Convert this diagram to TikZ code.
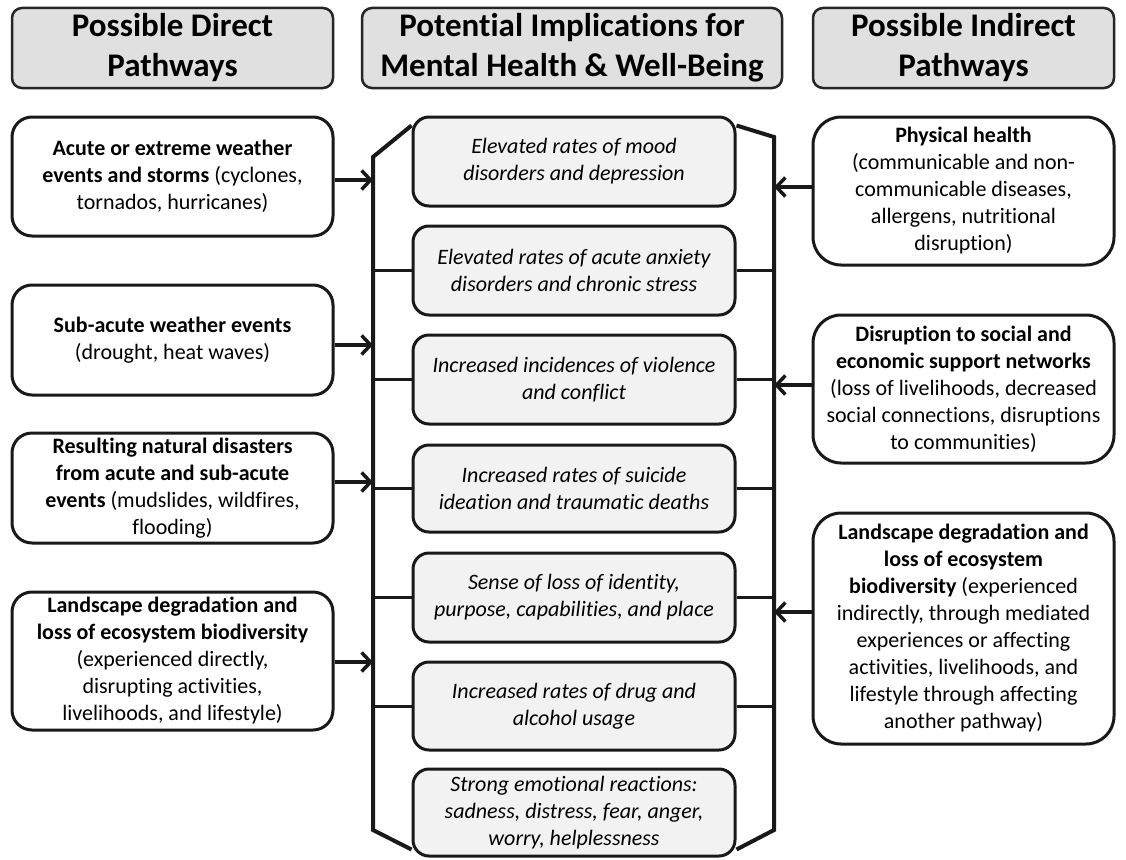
\documentclass[tikz,border=0pt]{standalone}
\usepackage{fontspec}
\setmainfont{Carlito}[Ligatures=NoCommon]
\usetikzlibrary{arrows.meta}
\begin{document}
\begin{tikzpicture}[x=1pt,y=-1pt,
  hdr/.style={draw=black!85, line width=2.5pt, rounded corners=10pt, fill=black!12,
    font=\fontsize{33}{40}\selectfont\bfseries, align=center, inner sep=0pt, minimum height=80pt},
  lbox/.style={draw=black!90, line width=3pt, rounded corners=20pt, fill=white,
    font=\fontsize{22}{27}\selectfont, align=center, inner sep=0pt, minimum width=321pt},
  cbox/.style={draw=black!90, line width=3pt, rounded corners=16pt, fill=black!5,
    font=\fontsize{22}{27}\selectfont\itshape, align=center, inner sep=0pt, minimum width=322pt},
  rbox/.style={draw=black!90, line width=3pt, rounded corners=28pt, fill=white,
    font=\fontsize{22}{27}\selectfont, align=center, inner sep=0pt, minimum width=301pt},
  spine/.style={draw=black!90, line width=4pt, line join=miter},
  conn/.style={draw=black!90, line width=3pt},
  arr/.style={draw=black!90, line width=3.5pt, -{Straight Barb[length=9pt,width=19pt]}}
]
\useasboundingbox (0,0) rectangle (1126,859);
\fill[white] (0,0) rectangle (1126,859);

% headers
\node[hdr, minimum width=321pt] (H1) at (172.5,48) {Possible Direct\\Pathways};
\node[hdr, minimum width=420pt] (H2) at (572,48) {Potential Implications for\\Mental Health \& Well-Being};
\node[hdr, minimum width=301pt] (H3) at (963.5,48) {Possible Indirect\\Pathways};

% left boxes
\node[lbox, minimum height=119pt] (L1) at (172.5,176.5) {\textbf{Acute or extreme weather}\\\textbf{events and storms} (cyclones,\\tornados, hurricanes)};
\node[lbox, minimum height=110pt] (L2) at (172.5,340) {\textbf{Sub-acute weather events}\\(drought, heat waves)};
\node[lbox, minimum height=110pt] (L3) at (172.5,488) {\textbf{Resulting natural disasters}\\\textbf{from acute and sub-acute}\\\textbf{events} (mudslides, wildfires,\\flooding)};
\node[lbox, minimum height=138pt] (L4) at (172.5,661) {\textbf{Landscape degradation and}\\\textbf{loss of ecosystem biodiversity}\\(experienced directly,\\disrupting activities,\\livelihoods, and lifestyle)};

% central boxes
\node[cbox, minimum height=89pt] (C1) at (574,161.5) {Elevated rates of mood\\disorders and depression};
\node[cbox, minimum height=89pt] (C2) at (574,270.5) {Elevated rates of acute anxiety\\disorders and chronic stress};
\node[cbox, minimum height=89pt] (C3) at (574,379.5) {Increased incidences of violence\\and conflict};
\node[cbox, minimum height=87pt] (C4) at (574,488.5) {Increased rates of suicide\\ideation and traumatic deaths};
\node[cbox, minimum height=89pt] (C5) at (574,597.5) {Sense of loss of identity,\\purpose, capabilities, and place};
\node[cbox, minimum height=88pt] (C6) at (574,706) {Increased rates of drug and\\alcohol usage};
\node[cbox, minimum height=87pt] (C7) at (574,812.5) {Strong emotional reactions:\\sadness, distress, fear, anger,\\worry, helplessness};

% right boxes
\node[rbox, minimum height=148pt] (R1) at (963.5,191) {\textbf{Physical health}\\(communicable and non-\\communicable diseases,\\allergens, nutritional\\disruption)};
\node[rbox, minimum height=148pt] (R2) at (963.5,389) {\textbf{Disruption to social and}\\\textbf{economic support networks}\\(loss of livelihoods, decreased\\social connections, disruptions\\to communities)};
\node[rbox, minimum height=231pt] (R3) at (963.5,628.5) {\textbf{Landscape degradation and}\\\textbf{loss of ecosystem}\\\textbf{biodiversity} (experienced\\indirectly, through mediated\\experiences or affecting\\activities, livelihoods, and\\lifestyle through affecting\\another pathway)};

% spines
\coordinate (SLt) at (373,157);
\coordinate (SLb) at (373,830);
\coordinate (SRt) at (774,137);
\coordinate (SRb) at (774,830);
\draw[spine] ([yshift=-10pt]C1.north west) -- (SLt) -- (SLb) -- ([yshift=8pt]C7.south west);
\draw[spine] ([yshift=-10pt]C1.north east) -- (SRt) -- (SRb) -- ([yshift=8pt]C7.south east);

% connectors from spines to central boxes
\foreach \c in {C2,C3,C4,C5,C6}{
  \draw[conn] (\c.west) -- (\c.west -| SLt);
  \draw[conn] (\c.east) -- (\c.east -| SRt);
}

% arrows
\path ([yshift=-3.5pt]L1.east) coordinate (a1)
      ([yshift=-5pt]L2.east) coordinate (a2)
      ([yshift=6pt]L3.east) coordinate (a3)
      ([yshift=-1pt]L4.east) coordinate (a4)
      ([yshift=4pt]R1.west) coordinate (b1)
      ([yshift=4pt]R2.west) coordinate (b2)
      ([yshift=16.5pt]R3.west) coordinate (b3);
\foreach \a in {a1,a2,a3,a4}{\draw[arr] (\a) -- (\a -| SLt);}
\foreach \b in {b1,b2,b3}{\draw[arr] (\b) -- (\b -| SRt);}
\end{tikzpicture}
\end{document}
